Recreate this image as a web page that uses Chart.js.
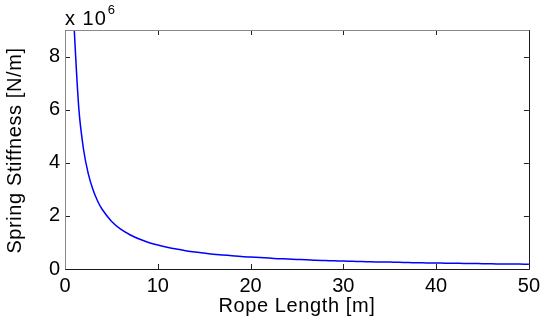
<!DOCTYPE html>
<html>
<head>
<meta charset="utf-8">
<script src="https://cdn.jsdelivr.net/npm/chart.js@4/dist/chart.umd.min.js"></script>
<style>
  body { margin: 0; background: #fff; }
  #wrap { width: 545px; height: 326px; }
</style>
</head>
<body>
<div id="wrap"><canvas id="stiffChart" width="545" height="326"></canvas></div>
<script>
// Rope length [m] and spring stiffness [x 10^6 N/m]
const ropeLength = [0.9, 1, 1.5, 2, 2.5, 3, 3.5, 4, 5, 6, 7, 8, 9, 10, 11, 12, 13, 14, 15, 16, 17, 18, 19, 20,
  21, 22, 23, 24, 25, 26, 27, 28, 29, 30, 31, 32, 33, 34, 35, 36, 37, 38, 39, 40,
  41, 42, 43, 44, 45, 46, 47, 48, 49, 50];
const stiffness = [10.0, 9.0, 6.0, 4.5, 3.6, 3.0, 2.57, 2.25, 1.8, 1.5, 1.29, 1.13, 1.0, 0.9, 0.82, 0.75, 0.69, 0.64, 0.6, 0.56, 0.53, 0.5, 0.47, 0.45,
  0.43, 0.41, 0.39, 0.375, 0.36, 0.35, 0.33, 0.32, 0.31, 0.3, 0.29, 0.28, 0.27, 0.265, 0.26, 0.25, 0.243, 0.237, 0.23, 0.225,
  0.22, 0.214, 0.21, 0.205, 0.2, 0.196, 0.19, 0.188, 0.184, 0.18];
const xTicks = [0, 10, 20, 30, 40, 50];
const yTicks = [0, 2, 4, 6, 8];
const xTitle = 'Rope Length [m]';
const yTitle = 'Spring Stiffness [N/m]';

const FONT = 'Liberation Sans, Arial, sans-serif';

// MATLAB style box, inward ticks, axis titles and the exponent label
const matlabBox = {
    id: 'matlabBox',
    afterDraw(chart) {
        const c = chart.ctx;
        const a = chart.chartArea;
        const xs = chart.scales.x;
        const ys = chart.scales.y;
        c.save();
        c.lineWidth = 1;
        // ticks
        c.strokeStyle = '#222';
        c.beginPath();
        xTicks.forEach(v => {
            const px = Math.round(xs.getPixelForValue(v)) + 0.5;
            c.moveTo(px, a.bottom); c.lineTo(px, a.bottom - 5);
            c.moveTo(px, a.top); c.lineTo(px, a.top + 5);
        });
        yTicks.forEach(v => {
            const py = Math.round(ys.getPixelForValue(v)) + 0.5;
            c.moveTo(a.left, py); c.lineTo(a.left + 5, py);
            c.moveTo(a.right, py); c.lineTo(a.right - 5, py);
        });
        c.stroke();
        // box: left/top lighter, right/bottom dark
        const l = Math.round(a.left) + 0.5, r = Math.round(a.right) + 0.5;
        const t = Math.round(a.top) + 0.5, b = Math.round(a.bottom) + 0.5;
        c.strokeStyle = '#8a8a8a';
        c.beginPath();
        c.moveTo(l, b); c.lineTo(l, t); c.lineTo(r, t);
        c.stroke();
        c.strokeStyle = '#1a1a1a';
        c.beginPath();
        c.moveTo(r, t); c.lineTo(r, b); c.lineTo(l, b);
        c.stroke();
        // axis titles
        c.fillStyle = '#000';
        c.font = '20px ' + FONT;
        c.letterSpacing = '0.6px';
        c.textAlign = 'center';
        c.textBaseline = 'middle';
        c.fillText(xTitle, (a.left + a.right) / 2, 306);
        c.save();
        c.translate(15, (a.top + a.bottom) / 2 + 1);
        c.rotate(-Math.PI / 2);
        c.fillText(yTitle, 0, 0);
        c.restore();
        // exponent label
        c.textBaseline = 'alphabetic';
        c.textAlign = 'left';
        c.font = '20px ' + FONT;
        c.letterSpacing = '1px';
        c.fillText('x 10', a.left, 25);
        const w = c.measureText('x 10').width;
        c.font = '13px ' + FONT;
        c.letterSpacing = '0px';
        c.fillText('6', a.left + w + 1, 14);
        c.restore();
    }
};

const ctx = document.getElementById('stiffChart').getContext('2d');
const stiffChart = new Chart(ctx, {
    type: 'line',
    data: {
        datasets: [{
            data: ropeLength.map((x, i) => ({ x: x, y: stiffness[i] })),
            borderColor: '#0000ff',
            borderWidth: 1.5,
            pointRadius: 0,
            tension: 0.3,
            fill: false
        }]
    },
    options: {
        responsive: false,
        animation: false,
        layout: { padding: { left: 0, top: 30, right: 12, bottom: 0 } },
        plugins: { legend: { display: false }, tooltip: { enabled: false } },
        scales: {
            x: {
                type: 'linear',
                min: 0,
                max: 50,
                afterBuildTicks: s => { s.ticks = xTicks.map(v => ({ value: v })); },
                afterFit: s => { s.height = 57; },
                grid: { display: false, drawTicks: false },
                border: { display: false },
                ticks: { color: '#000', font: { family: FONT, size: 20 }, padding: 5, maxRotation: 0 }
            },
            y: {
                type: 'linear',
                min: 0,
                max: 9,
                afterBuildTicks: s => { s.ticks = yTicks.map(v => ({ value: v })); },
                afterFit: s => { s.width = 65; },
                grid: { display: false, drawTicks: false },
                border: { display: false },
                ticks: { color: '#000', font: { family: FONT, size: 20 }, padding: 5 }
            }
        }
    },
    plugins: [matlabBox]
});
</script>
</body>
</html>
